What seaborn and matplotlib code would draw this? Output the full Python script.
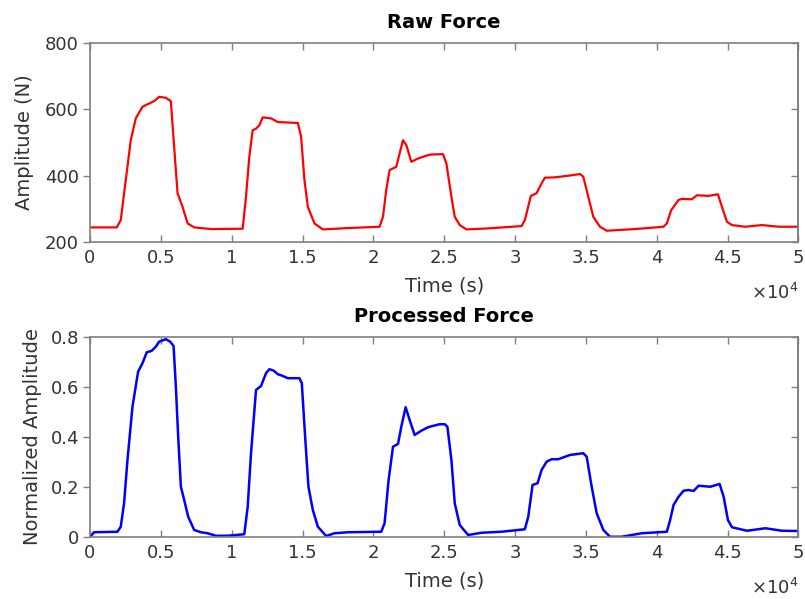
import numpy as np
import pandas as pd
import matplotlib
matplotlib.use("Agg")
import matplotlib.pyplot as plt
import seaborn as sns

# ---- data ----
raw_t = [0, 1888, 2171, 2525, 2878, 3232, 3704, 3940, 4526, 4880, 5354, 5707, 5940,
         6180, 6534, 6888, 7360, 8536, 10776, 11010, 11245, 11480, 11716, 11952, 12190,
         12780, 13250, 14668, 14900, 15135, 15375, 15845, 16435, 18200, 20437, 20680,
         20910, 21146, 21618, 22090, 22330, 22680, 23155, 23860, 24093, 24920, 25155,
         25509, 25744, 26097, 26570, 28100, 30460, 30693, 31117, 31520, 31874, 32110,
         32816, 33760, 34583, 34818, 35172, 35526, 35996, 36470, 38472, 40478, 40712,
         41018, 41541, 41780, 42483, 42837, 43660, 44320, 44603, 44957, 45310, 46253,
         47431, 48610, 50000]
raw_f = [244, 244, 266, 387, 507, 573, 608, 613, 625, 638, 635, 625, 487,
         347, 306, 256, 244, 239, 240, 336, 457, 537, 542, 552, 576,
         573, 562, 559, 518, 387, 306, 256, 238, 242, 246, 276,
         357, 417, 427, 507, 492, 442, 452, 462, 464, 465, 437,
         336, 276, 251, 238, 241, 248, 266, 339, 347, 377, 394,
         395, 400, 405, 397, 336, 276, 246, 234, 239, 246, 256,
         296, 327, 330, 329, 341, 339, 344, 306, 261, 251, 246,
         251, 246, 246]

proc_t = [0, 283, 1937, 2171, 2405, 2645, 2998, 3395, 3705, 4010, 4343, 4647, 4880,
          5354, 5658, 5898, 6061, 6224, 6415, 6648, 6931, 7355, 7829, 8303, 8890,
          9717, 10890, 11131, 11365, 11718, 12072, 12425, 12660, 12970, 13253, 13606,
          13960, 14782, 14950, 15184, 15418, 15728, 16083, 16669, 17258, 18200, 20557,
          20792, 21075, 21386, 21740, 21973, 22278, 22560, 22914, 23387, 23860, 24680,
          25036, 25226, 25509, 25744, 26097, 26690, 27630, 29045, 30693, 30932, 31237,
          31590, 31874, 32228, 32581, 33050, 33875, 34818, 35056, 35410, 35763, 36235,
          36703, 37531, 38946, 40714, 40948, 41188, 41541, 41895, 42249, 42602, 42956,
          43777, 44440, 44723, 45027, 45310, 46371, 47666, 48846, 50000]
proc_a = [0.0, 0.019, 0.021, 0.041, 0.135, 0.308, 0.521, 0.661, 0.695, 0.739, 0.744, 0.761, 0.781,
          0.791, 0.781, 0.764, 0.601, 0.401, 0.201, 0.148, 0.081, 0.028, 0.019, 0.015, 0.005,
          0.005, 0.011, 0.121, 0.335, 0.588, 0.604, 0.655, 0.671, 0.665, 0.651, 0.644,
          0.635, 0.635, 0.615, 0.401, 0.201, 0.108, 0.041, 0.004, 0.015, 0.019, 0.021,
          0.055, 0.228, 0.361, 0.372, 0.441, 0.519, 0.468, 0.408, 0.425, 0.439, 0.451,
          0.451, 0.441, 0.308, 0.135, 0.048, 0.008, 0.017, 0.021, 0.031, 0.081, 0.208,
          0.215, 0.268, 0.301, 0.311, 0.311, 0.328, 0.335, 0.321, 0.201, 0.095, 0.028,
          0.001, 0.001, 0.015, 0.021, 0.068, 0.128, 0.161, 0.185, 0.188, 0.184, 0.205,
          0.201, 0.212, 0.161, 0.068, 0.039, 0.025, 0.035, 0.025, 0.024]

x_ticks = [0, 5000, 10000, 15000, 20000, 25000, 30000, 35000, 40000, 45000, 50000]
x_tick_labels = ["0", "0.5", "1", "1.5", "2", "2.5", "3", "3.5", "4", "4.5", "5"]
raw_yticks = [200, 400, 600, 800]
proc_yticks = [0, 0.2, 0.4, 0.6, 0.8]

raw_df = pd.DataFrame({"t": raw_t, "f": raw_f})
proc_df = pd.DataFrame({"t": proc_t, "a": proc_a})

sns.set_style("white")
plt.rcParams["font.family"] = ["DejaVu Sans"]
plt.rcParams["font.size"] = 12

txt = "#333333"
spine = "#7f7f7f"
TICK_FS = 13
LABEL_FS = 14
TITLE_FS = 14

fig = plt.figure(figsize=(8.05, 5.99), dpi=100)
ax1 = fig.add_axes([0.1118, 0.596, 0.880, 0.332])
ax2 = fig.add_axes([0.1118, 0.1035, 0.880, 0.334])

sns.lineplot(data=raw_df, x="t", y="f", ax=ax1, color="#ff0000", lw=1.6)
sns.lineplot(data=proc_df, x="t", y="a", ax=ax2, color="#0000ff", lw=1.8)

def style(ax, yticks, ylim, ylabel, title, ylabelpad):
    ax.set_xlim(0, 50000)
    ax.set_ylim(*ylim)
    ax.set_xticks(x_ticks)
    ax.set_xticklabels(x_tick_labels)
    ax.set_yticks(yticks)
    ax.set_yticklabels(["%g" % v for v in yticks])
    for s in ax.spines.values():
        s.set_visible(True)
        s.set_color(spine)
        s.set_linewidth(1.2)
    ax.tick_params(axis="x", direction="in", top=True, bottom=True, length=5,
                   width=1, color=spine, labelcolor=txt, labelsize=TICK_FS, pad=5)
    ax.tick_params(axis="y", direction="out", left=True, right=False, length=5,
                   width=1, color=spine, labelcolor=txt, labelsize=TICK_FS, pad=3)
    sec = ax.secondary_yaxis("right")
    sec.set_yticks(yticks)
    sec.tick_params(direction="in", length=5, width=1, color=spine, labelright=False)
    sec.spines["right"].set_color(spine)
    sec.spines["right"].set_linewidth(1.2)
    ax.set_xlabel("Time (s)", color=txt, fontsize=LABEL_FS, labelpad=7)
    ax.set_ylabel(ylabel, color=txt, fontsize=LABEL_FS, labelpad=ylabelpad)
    ax.set_title(title, fontweight="bold", fontsize=TITLE_FS, color="black", pad=11)
    ax.text(1.0, -0.255, r"$\times 10^{4}$", transform=ax.transAxes, ha="right",
            va="center", color=txt, fontsize=TICK_FS)

style(ax1, raw_yticks, (200, 800), "Amplitude (N)", "Raw Force", 8)
style(ax2, proc_yticks, (0, 0.8), "Normalized Amplitude", "Processed Force", 6)

fig.savefig("out.png", dpi=100)
